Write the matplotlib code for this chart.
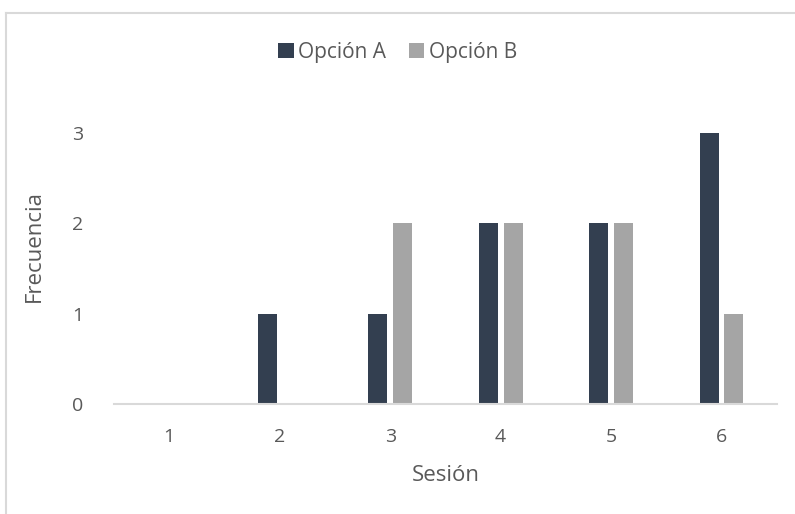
import numpy as np
import matplotlib.pyplot as plt
from matplotlib.lines import Line2D

sesiones = ['1', '2', '3', '4', '5', '6']
opcion_a = [0, 1, 1, 2, 2, 3]
opcion_b = [0, 0, 2, 2, 2, 1]

plt.rcParams['font.family'] = ['Open Sans', 'DejaVu Sans']
gris = '#595959'

fig = plt.figure(figsize=(7.95, 5.14), dpi=100)
ax = fig.add_axes([0.1434, 0.214, 0.8336, 0.615])

x = np.arange(len(sesiones))
w = 0.172
ax.bar(x - 0.113, opcion_a, w, color='#333F50', label='Opción A')
ax.bar(x + 0.113, opcion_b, w, color='#A5A5A5', label='Opción B')

ax.set_xlim(-0.5, len(sesiones) - 0.5)
ax.set_ylim(0, 3.5)
ax.set_yticks([0, 1, 2, 3])
ax.set_xticks(x)
ax.set_xticklabels(sesiones)
ax.tick_params(length=0, labelsize=14, colors=gris, pad=17)
ax.tick_params(axis='y', pad=22)

for s in ['top', 'right', 'left']:
    ax.spines[s].set_visible(False)
ax.spines['bottom'].set_color('#D9D9D9')
ax.spines['bottom'].set_linewidth(1.5)

ax.set_xlabel('Sesión', fontsize=16, color=gris, labelpad=14)
ax.set_ylabel('Frecuencia', fontsize=16, color=gris, labelpad=20)

leg = fig.legend(loc='center', bbox_to_anchor=(0.5, 0.898), ncol=2, frameon=False,
                 fontsize=15, handlelength=0.75, handleheight=0.75,
                 handletextpad=0.2, columnspacing=1.1)
for t in leg.get_texts():
    t.set_color(gris)

# chart area border (top and left edges)
fig.add_artist(Line2D([6 / 795, 1], [1 - 13 / 514, 1 - 13 / 514],
                      transform=fig.transFigure, color='#D9D9D9', lw=1.5))
fig.add_artist(Line2D([6 / 795, 6 / 795], [0, 1 - 13 / 514],
                      transform=fig.transFigure, color='#D9D9D9', lw=1.5))

fig.savefig('out.png', dpi=100)
